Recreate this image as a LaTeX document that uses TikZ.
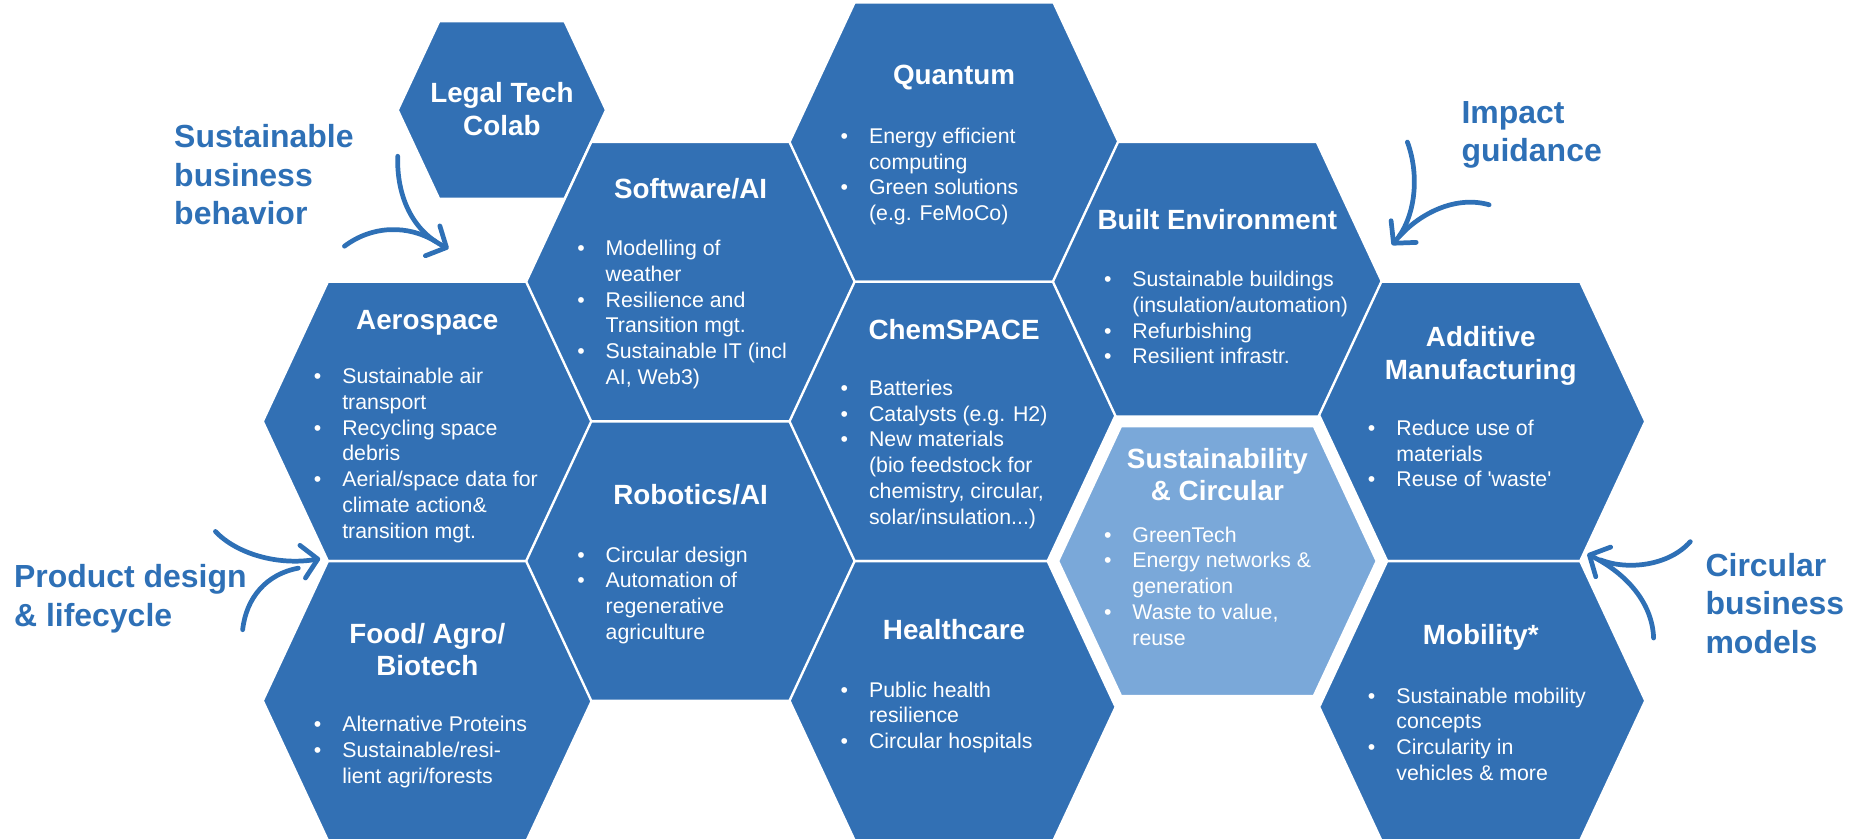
\documentclass[tikz,border=0pt]{standalone}
\usepackage{fontspec}
\setmainfont{Liberation Sans}
\usetikzlibrary{arrows.meta}

\definecolor{hexblue}{RGB}{50,112,180}
\definecolor{hexlight}{RGB}{122,168,217}
\definecolor{labelblue}{RGB}{46,112,182}

\newcommand{\bitem}{\makebox[24pt][l]{\textbullet}}
\newcommand{\bcont}{\hspace*{24pt}}

\begin{document}
\begin{tikzpicture}[
    x=1pt, y=-1pt,
    cell/.style={fill=hexblue, draw=white, line width=2pt},
    core/.style={fill=hexlight, draw=white, line width=10pt},
    title/.style={anchor=base, inner sep=0pt, text=white, font=\fontsize{23.5}{27.5}\selectfont\bfseries},
    items/.style={anchor=base west, inner sep=0pt, text=white, font=\fontsize{18}{21.8}\selectfont},
    theme/.style={anchor=base west, inner sep=0pt, text=labelblue, font=\fontsize{27}{32.5}\selectfont\bfseries},
    swoosh/.style={draw=labelblue, line width=4pt, line cap=round, line join=round}
]
\useasboundingbox (0,0) rectangle (1568,709);

% Honeycomb cells (half width 139, half top 84, half height 118)
\begin{scope}
\clip (0,0) rectangle (1568,709);
% small Legal Tech cell, sits on the Software/AI edge
\draw[cell] (336,93) -- (371,18) -- (477,18) -- (512,93) -- (477,168) -- (371,168) -- cycle;
\foreach \cx/\cy in {361/356, 361/592, 583.5/238, 583.5/474, 806/120, 806/356, 806/592, 1028.5/238, 1251/356, 1251/592}
    \draw[cell] (\cx-139,\cy) -- (\cx-84,\cy-118) -- (\cx+84,\cy-118) -- (\cx+139,\cy) -- (\cx+84,\cy+118) -- (\cx-84,\cy+118) -- cycle;
% highlighted centre cell
\draw[core] (889.5,474) -- (944.5,356) -- (1112.5,356) -- (1167.5,474) -- (1112.5,592) -- (944.5,592) -- cycle;
\end{scope}

% Cell titles
\node[title] (legal) at (424,87) {\parbox[t]{200pt}{\centering Legal Tech\\Colab}};
\node[title] (aero) at (361,278) {Aerospace};
\node[title] (food) at (361,543.3) {\parbox[t]{200pt}{\centering Food/ Agro/\\Biotech}};
\node[title] (soft) at (583.5,167.3) {Software/AI};
\node[title] (robo) at (583.5,426.3) {Robotics/AI};
\node[title] (quant) at (806,71.7) {Quantum};
\node[title] (chem) at (806,287) {ChemSPACE};
\node[title] (health) at (806,540.5) {Healthcare};
\node[title] (built) at (1028.5,194.2) {Built Environment};
\node[title] (sust) at (1028.5,395.5) {\parbox[t]{220pt}{\centering Sustainability\\\& Circular}};
\node[title] (addi) at (1251,292.7) {\parbox[t]{220pt}{\centering Additive\\Manufacturing}};
\node[title] (mobi) at (1251,544.7) {Mobility*};

% Bullet lists
\node[items] (aero-list) at (265,324) {\parbox[t]{260pt}{\raggedright
    \bitem Sustainable air\\ \bcont transport\\ \bitem Recycling space\\ \bcont debris\\
    \bitem Aerial/space data for\\ \bcont climate action\&\\ \bcont transition mgt.}};
\node[items] (food-list) at (265,618.4) {\parbox[t]{260pt}{\raggedright
    \bitem Alternative Proteins\\ \bitem Sustainable/resi-\\ \bcont lient agri/forests}};
\node[items] (soft-list) at (487.5,215.8) {\parbox[t]{260pt}{\raggedright
    \bitem Modelling of\\ \bcont weather\\ \bitem Resilience and\\ \bcont Transition mgt.\\
    \bitem Sustainable IT (incl\\ \bcont AI, Web3)}};
\node[items] (robo-list) at (487.5,474.8) {\parbox[t]{260pt}{\raggedright
    \bitem Circular design\\ \bitem Automation of\\ \bcont regenerative\\ \bcont agriculture}};
\node[items] (quant-list) at (710,121) {\parbox[t]{260pt}{\raggedright
    \bitem Energy efficient\\ \bcont computing\\ \bitem Green solutions\\ \bcont (e.g. FeMoCo)}};
\node[items] (chem-list) at (710,334) {\parbox[t]{260pt}{\raggedright
    \bitem Batteries\\ \bitem Catalysts (e.g. H2)\\ \bitem New materials\\
    \bcont (bio feedstock for\\ \bcont chemistry, circular,\\ \bcont solar/insulation...)}};
\node[items] (health-list) at (710,588.9) {\parbox[t]{260pt}{\raggedright
    \bitem Public health\\ \bcont resilience\\ \bitem Circular hospitals}};
\node[items] (built-list) at (932.5,242) {\parbox[t]{260pt}{\raggedright
    \bitem Sustainable buildings\\ \bcont (insulation/automation)\\ \bitem Refurbishing\\ \bitem Resilient infrastr.}};
\node[items] (sust-list) at (932.5,458) {\parbox[t]{260pt}{\raggedright
    \bitem GreenTech\\ \bitem Energy networks \&\\ \bcont generation\\ \bitem Waste to value,\\ \bcont reuse}};
\node[items] (addi-list) at (1155.5,367.8) {\parbox[t]{260pt}{\raggedright
    \bitem Reduce use of\\ \bcont materials\\ \bitem Reuse of \textquotesingle waste\textquotesingle}};
\node[items] (mobi-list) at (1155.5,594) {\parbox[t]{260pt}{\raggedright
    \bitem Sustainable mobility\\ \bcont concepts\\ \bitem Circularity in\\ \bcont vehicles \& more}};

% Side themes
\node[theme] (behav) at (147,125) {\parbox[t]{200pt}{\raggedright Sustainable\\business\\behavior}};
\node[theme] (impact) at (1234.5,104) {\parbox[t]{200pt}{\raggedright Impact\\guidance}};
\node[theme] (design) at (11.7,496.7) {\parbox[t]{250pt}{\raggedright Product design\\\& lifecycle}};
\node[theme] (circ) at (1440.7,487) {\parbox[t]{200pt}{\raggedright Circular\\business\\models}};

% Curved arrows towards the honeycomb
\coordinate (bb-top) at (336,132);
\coordinate (bb-low) at (291,208);
\coordinate (bb-join) at (368,204);
\coordinate (bb-tip) at (379,210);
\draw[swoosh, -{Straight Barb[length=13pt, width=28pt, round]}] (bb-top) .. controls (335,165) and (348,195) .. (bb-tip);
\draw[swoosh] (bb-low) .. controls (315,190) and (345,190) .. (bb-join);

\coordinate (ig-top) at (1189,120);
\coordinate (ig-right) at (1258,173);
\coordinate (ig-join) at (1182,200);
\coordinate (ig-tip) at (1176,207);
\draw[swoosh, -{Straight Barb[length=13pt, width=28pt, round]}] (ig-top) .. controls (1200,150) and (1195,185) .. (ig-tip);
\draw[swoosh] (ig-right) .. controls (1230,165) and (1200,180) .. (ig-join);

\coordinate (pd-top) at (182,449);
\coordinate (pd-low) at (205,532);
\coordinate (pd-join) at (252,480);
\coordinate (pd-tip) at (270.5,472);
\draw[swoosh, -{Straight Barb[length=13pt, width=28pt, round]}] (pd-top) .. controls (200,468) and (235,478) .. (pd-tip);
\draw[swoosh] (pd-low) .. controls (208,505) and (225,485) .. (pd-join);

\coordinate (cb-top) at (1428,457.6);
\coordinate (cb-low) at (1397,539);
\coordinate (cb-join) at (1352,473);
\coordinate (cb-tip) at (1341,468);
\draw[swoosh, -{Straight Barb[length=13pt, width=28pt, round]}] (cb-low) .. controls (1396,510) and (1375,485) .. (cb-tip);
\draw[swoosh] (cb-top) .. controls (1410,478) and (1375,482) .. (cb-join);

\end{tikzpicture}
\end{document}
